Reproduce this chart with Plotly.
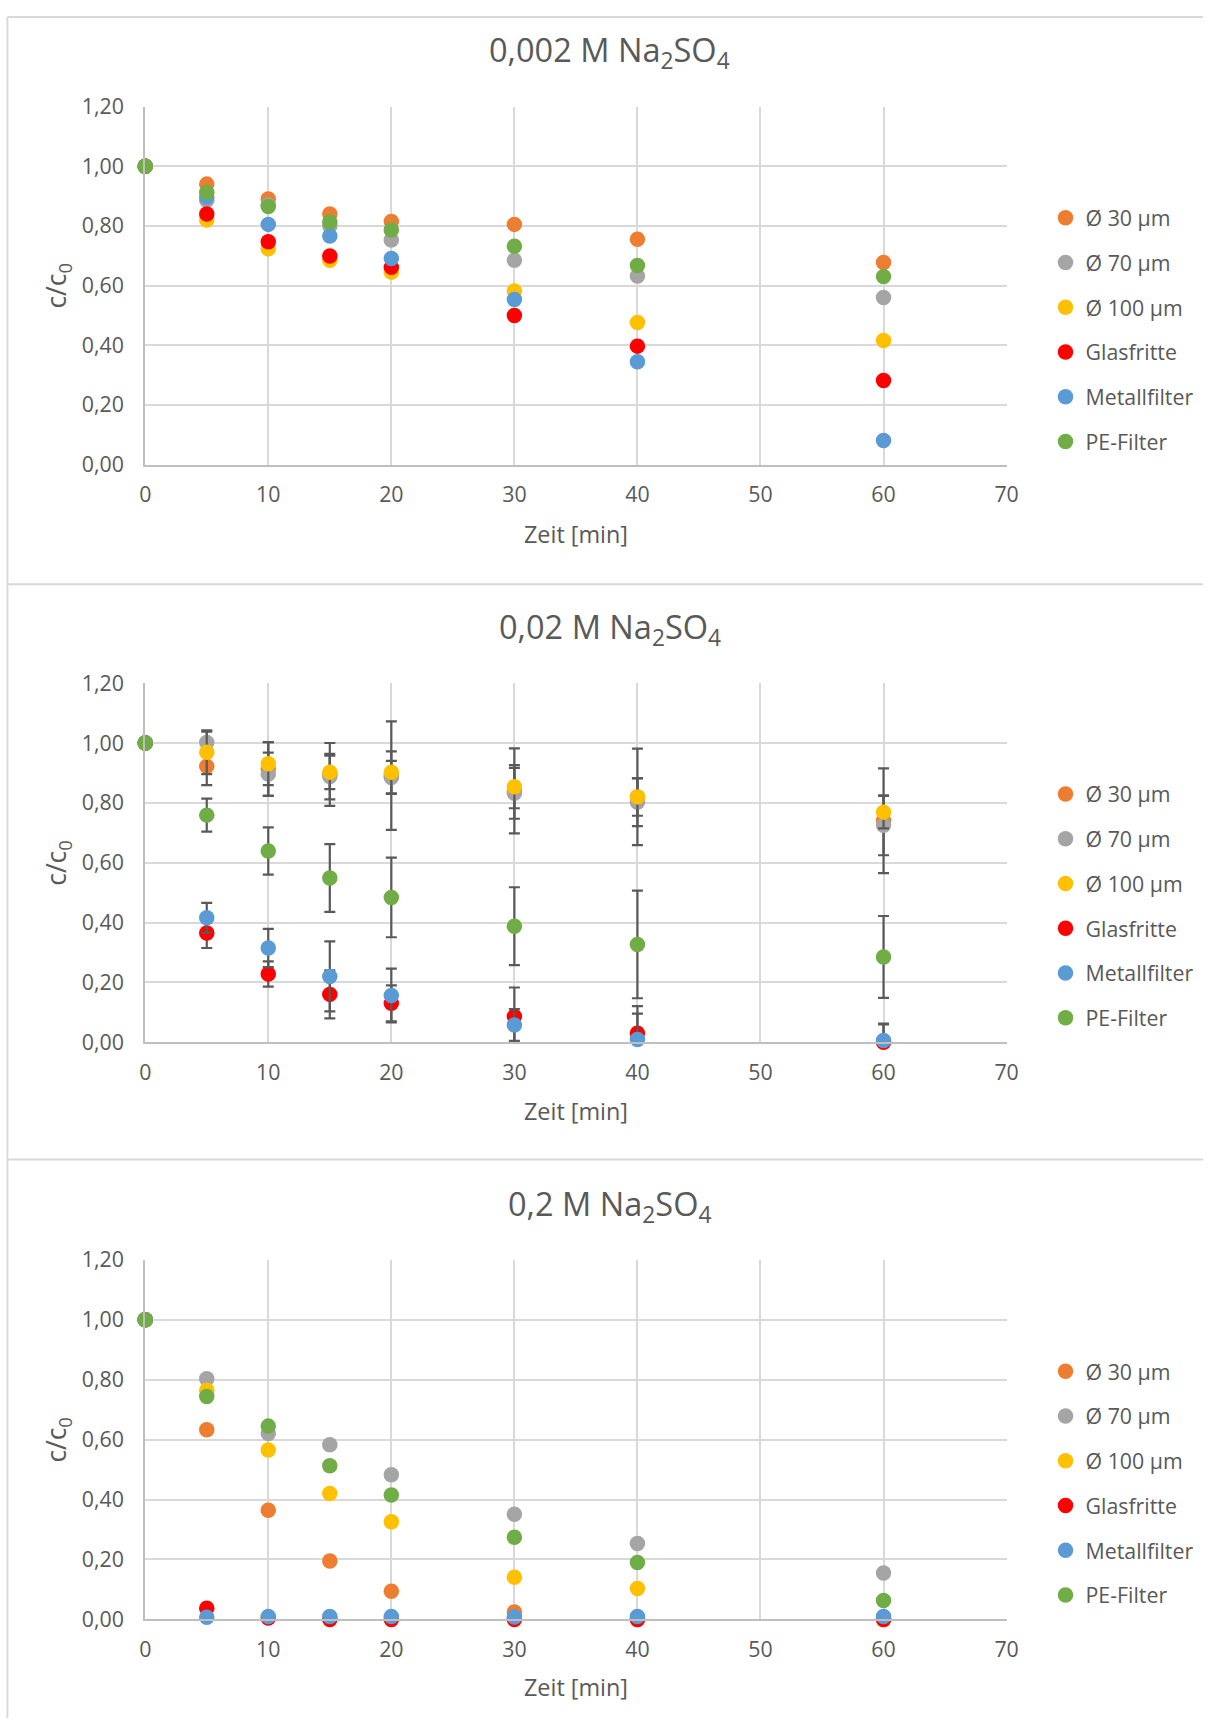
import plotly.graph_objects as go

# ---------------- data ----------------
times = [0, 5, 10, 15, 20, 30, 40, 60]
series_names = ["Ø 30 µm", "Ø 70 µm", "Ø 100 µm", "Glasfritte", "Metallfilter", "PE-Filter"]
series_colors = ["#ED7D31", "#A5A5A5", "#FFC000", "#FF0000", "#5B9BD5", "#70AD47"]

panel_titles = ["0,002 M Na<sub>2</sub>SO<sub>4</sub>",
                "0,02 M Na<sub>2</sub>SO<sub>4</sub>",
                "0,2 M Na<sub>2</sub>SO<sub>4</sub>"]

# 0,002 M
p1_d30 = [1.00, 0.940, 0.890, 0.840, 0.815, 0.805, 0.755, 0.677]
p1_d70 = [1.00, 0.886, 0.870, 0.800, 0.753, 0.685, 0.632, 0.560]
p1_d100 = [1.00, 0.820, 0.723, 0.685, 0.645, 0.582, 0.476, 0.416]
p1_glas = [1.00, 0.840, 0.747, 0.699, 0.661, 0.500, 0.397, 0.282]
p1_metall = [1.00, 0.896, 0.805, 0.766, 0.691, 0.553, 0.345, 0.081]
p1_pe = [1.00, 0.912, 0.865, 0.813, 0.786, 0.732, 0.667, 0.630]

# 0,02 M (with standard deviations)
p2_d30 = [1.00, 0.922, 0.913, 0.895, 0.891, 0.840, 0.820, 0.740]
p2_d70 = [1.00, 1.002, 0.896, 0.888, 0.885, 0.832, 0.802, 0.725]
p2_d100 = [1.00, 0.969, 0.931, 0.902, 0.902, 0.854, 0.820, 0.769]
p2_glas = [1.00, 0.365, 0.228, 0.160, 0.130, 0.086, 0.030, 0.000]
p2_metall = [1.00, 0.416, 0.315, 0.220, 0.156, 0.058, 0.009, 0.006]
p2_pe = [1.00, 0.759, 0.639, 0.549, 0.484, 0.388, 0.327, 0.285]

p2_d30_err = [0, 0.063, 0.090, 0.105, 0.181, 0.142, 0.161, 0.175]
p2_d70_err = [0, 0.036, 0.072, 0.076, 0.055, 0.085, 0.080, 0.100]
p2_d100_err = [0, 0.073, 0.072, 0.056, 0.070, 0.072, 0.063, 0.054]
p2_glas_err = [0, 0.050, 0.042, 0.080, 0.060, 0.097, 0.091, 0.060]
p2_metall_err = [0, 0.050, 0.064, 0.117, 0.090, 0.053, 0.087, 0.056]
p2_pe_err = [0, 0.055, 0.079, 0.113, 0.133, 0.130, 0.180, 0.137]

# 0,2 M
p3_d30 = [1.00, 0.633, 0.364, 0.195, 0.094, 0.025, 0.000, 0.000]
p3_d70 = [1.00, 0.803, 0.620, 0.583, 0.483, 0.351, 0.253, 0.155]
p3_d100 = [1.00, 0.765, 0.565, 0.420, 0.326, 0.141, 0.103, 0.000]
p3_glas = [1.00, 0.037, 0.005, 0.000, 0.000, 0.000, 0.000, 0.000]
p3_metall = [1.00, 0.007, 0.010, 0.010, 0.010, 0.008, 0.010, 0.010]
p3_pe = [1.00, 0.744, 0.645, 0.513, 0.415, 0.274, 0.190, 0.063]

x_ticks = [0, 10, 20, 30, 40, 50, 60, 70]
y_ticks = [0.0, 0.2, 0.4, 0.6, 0.8, 1.0, 1.2]

panels = [
    [p1_d30, p1_d70, p1_d100, p1_glas, p1_metall, p1_pe],
    [p2_d30, p2_d70, p2_d100, p2_glas, p2_metall, p2_pe],
    [p3_d30, p3_d70, p3_d100, p3_glas, p3_metall, p3_pe],
]
panel_errors = [
    None,
    [p2_d30_err, p2_d70_err, p2_d100_err, p2_glas_err, p2_metall_err, p2_pe_err],
    None,
]

# ---------------- layout geometry (target pixels in the photo) ----------------
W, H = 1215, 1731
# observed mapping from figure pixels to photo pixels
AX, BX = 0.985, 5.4
AY, BY = 0.983, 15.5
S = 1 / 0.984  # size compensation

FONT = "Open Sans"
TXT = "#595959"
plot_x0, plot_x1 = 144.6, 1005.8
panel_plot_top = [106.0, 682.5, 1259.0]
panel_plot_bot = [464.0, 1041.5, 1618.5]
panel_title_y = [51.0, 628.0, 1205.0]
panel_xtitle_y = [533.0, 1110.0, 1686.5]
panel_legend_mid = [329.4, 905.4, 1482.5]
title_x = 609.0
legend_marker_x = 1066.0


def px(x):
    return ((x - BX) / AX) / W


def py(y):
    return 1 - ((y - BY) / AY) / H


fig = go.Figure()

for k in range(3):
    xa = "x" if k == 0 else f"x{k+1}"
    ya = "y" if k == 0 else f"y{k+1}"
    leg = "legend" if k == 0 else f"legend{k+1}"
    for i, (name, color) in enumerate(zip(series_names, series_colors)):
        vals = panels[k][i]
        err = None
        if panel_errors[k] is not None:
            e = panel_errors[k][i]
            err = dict(type="data", symmetric=False, array=e,
                       arrayminus=[min(ev, v) for ev, v in zip(e, vals)],
                       color="#595959", thickness=2.2, width=5.5, visible=True)
        fig.add_trace(go.Scatter(
            x=times, y=vals, mode="markers", name=name,
            marker=dict(color=color, size=15.5, line=dict(width=0)),
            error_y=err, xaxis=xa, yaxis=ya, legend=leg,
            legendgroup=f"p{k}_{i}", cliponaxis=False,
        ))

    axis_common = dict(showgrid=True, gridcolor="#D9D9D9", gridwidth=2,
                       showline=True, linecolor="#BFBFBF", linewidth=2,
                       zeroline=False, ticks="",
                       tickfont=dict(family=FONT, size=21 * S, color=TXT))
    fig.layout[f"xaxis{'' if k == 0 else k+1}"] = dict(
        domain=[px(plot_x0), px(plot_x1)], anchor=ya, range=[0, 70],
        tickvals=x_ticks, ticklabelstandoff=10, **axis_common)
    fig.layout[f"yaxis{'' if k == 0 else k+1}"] = dict(
        domain=[py(panel_plot_bot[k]), py(panel_plot_top[k])], anchor=xa,
        range=[0, 1.2], tickvals=y_ticks, tickformat=".2f",
        ticklabelstandoff=15, **axis_common)

    fig.layout[leg] = dict(
        x=px(legend_marker_x) - 21.6 / W, xanchor="left",
        y=py(panel_legend_mid[k]), yanchor="middle",
        font=dict(family=FONT, size=21 * S, color=TXT), traceorder="grouped",
        tracegroupgap=14, bgcolor="rgba(0,0,0,0)", borderwidth=0)

    fig.add_annotation(text=panel_titles[k], x=px(title_x), y=py(panel_title_y[k]),
                       xref="paper", yref="paper", showarrow=False,
                       xanchor="center", yanchor="middle",
                       font=dict(family=FONT, size=32 * S, color=TXT))
    fig.add_annotation(text="Zeit [min]", x=px((plot_x0 + plot_x1) / 2),
                       y=py(panel_xtitle_y[k]), xref="paper", yref="paper",
                       showarrow=False, xanchor="center", yanchor="middle",
                       font=dict(family=FONT, size=23 * S, color=TXT))
    fig.add_annotation(text="c/c<sub>0</sub>", x=px(57.4),
                       y=py((panel_plot_top[k] + panel_plot_bot[k]) / 2),
                       xref="paper", yref="paper", showarrow=False, textangle=-90,
                       xanchor="center", yanchor="middle",
                       font=dict(family=FONT, size=26 * S, color=TXT))

# panel frames
border = dict(color="#D9D9D9", width=2)
fig.add_shape(type="line", xref="paper", yref="paper", x0=px(6.8), x1=px(6.8),
              y0=1 - 1 / H, y1=0, line=border)
fig.add_shape(type="line", xref="paper", yref="paper", x0=px(6.8), x1=1,
              y0=1 - 1 / H, y1=1 - 1 / H, line=border)
for yb in [583.5, 1158.7]:
    fig.add_shape(type="line", xref="paper", yref="paper", x0=px(6.8), x1=1,
                  y0=py(yb), y1=py(yb), line=border)

fig.update_layout(width=W, height=H, margin=dict(l=0, r=0, t=0, b=0),
                  paper_bgcolor="white", plot_bgcolor="white",
                  separators=",.", showlegend=True,
                  font=dict(family=FONT, color=TXT))

fig.write_html("out.html")
